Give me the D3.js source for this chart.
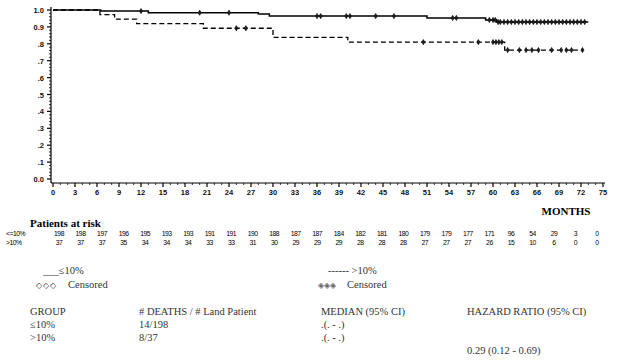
<!DOCTYPE html>
<html><head><meta charset="utf-8">
<script src="https://cdn.jsdelivr.net/npm/d3@7"></script>
<style>body{margin:0;background:#fff}svg{display:block}</style>
</head><body><svg id="c" width="617" height="360"></svg>
<script>
// ---- data ----
const lowTimes = [0, 6.5, 13, 28, 29.5, 51, 59, 60.5, 73];
const lowSurv  = [1.0, 0.994, 0.984, 0.976, 0.964, 0.953, 0.941, 0.929, 0.929];
const lowCensor = [12, 20, 24, 36, 36.5, 40, 40.5, 44, 46.5, 54.5, 55, 59.5, 60, 60.3, 60.7, 61, 61.5, 62, 62.5, 63, 63.5, 64, 64.5, 65, 65.5, 66, 66.5, 67, 67.5, 68, 68.5, 69, 69.5, 70, 70.5, 71, 71.5, 72, 72.5];
const highTimes = [0, 6.4, 8.4, 11.4, 20.5, 30, 40.2, 61.6, 72.3];
const highSurv  = [1.0, 0.973, 0.946, 0.919, 0.892, 0.838, 0.81, 0.763, 0.763];
const highCensor = [25, 26.3, 50.5, 58, 60, 60.4, 60.8, 61.2, 62, 63.6, 64.5, 65.3, 66.2, 68, 69.3, 70, 70.7, 72.2];
const xTicks = d3.range(0, 76, 3);
const yTickVals = [0, .1, .2, .3, .4, .5, .6, .7, .8, .9, 1.0];
const yTickLabels = ["0.0", ".1", ".2", ".3", ".4", ".5", ".6", ".7", ".8", "0.9", "1.0"];
const riskLabels = ["<=10%", ">10%"];
const riskLow  = [198,198,197,196,195,193,193,191,191,190,188,187,187,184,182,181,180,179,179,177,171,96,54,29,3,0];
const riskHigh = [37,37,37,35,34,34,34,33,33,31,30,29,29,29,28,28,28,27,27,27,26,15,10,6,0,0];
const tableHeaders = ["GROUP", "# DEATHS / # Land Patient", "MEDIAN (95% CI)", "HAZARD RATIO (95% CI)"];
const tableRows = [["\u226410%", "14/198", ".(. - .)", ""], [">10%", "8/37", ".(. - .)", ""]];
const hazardText = "0.29 (0.12 - 0.69)";

// ---- drawing ----
const svg = d3.select("#c");
const x = d3.scaleLinear().domain([0, 75]).range([53, 603]);
const y = d3.scaleLinear().domain([0, 1]).range([179, 10]);
const axisY0 = 183;

const ax = svg.append("g").attr("stroke", "#000").attr("stroke-width", 1.2);
ax.append("line").attr("x1", 51).attr("x2", 51).attr("y1", 7).attr("y2", axisY0);
ax.append("line").attr("x1", 51).attr("x2", 605).attr("y1", axisY0).attr("y2", axisY0);
d3.range(0, 1.0001, 0.02).forEach(v => {
  const major = Math.abs(v * 10 - Math.round(v * 10)) < 1e-6;
  ax.append("line").attr("x1", 51).attr("x2", 51 - (major ? 4 : 2))
    .attr("y1", y(v)).attr("y2", y(v)).attr("stroke-width", major ? 1.2 : 0.8);
});
d3.range(0, 76, 1).forEach(m => {
  const major = m % 3 === 0;
  ax.append("line").attr("x1", x(m)).attr("x2", x(m))
    .attr("y1", axisY0).attr("y2", axisY0 + (major ? 4 : 2)).attr("stroke-width", major ? 1.2 : 0.8);
});
svg.append("g").selectAll("text").data(yTickVals).join("text")
  .attr("x", 44).attr("y", d => y(d) + 3).attr("text-anchor", "end")
  .attr("font-family", "Liberation Sans, Arial, sans-serif").attr("font-weight", "bold")
  .attr("font-size", 7.5).attr("fill", "#111")
  .text((d, i) => yTickLabels[i]);
svg.append("g").selectAll("text").data(xTicks).join("text")
  .attr("x", d => x(d)).attr("y", 195).attr("text-anchor", "middle")
  .attr("font-family", "Liberation Sans, Arial, sans-serif").attr("font-weight", "bold")
  .attr("font-size", 7.5).attr("fill", "#111")
  .text(d => d);

function stepPts(t, s) { return t.map((d, i) => [x(d), y(s[i])]); }
const line = d3.line().curve(d3.curveStepAfter);
svg.append("path").attr("d", line(stepPts(lowTimes, lowSurv)))
  .attr("fill", "none").attr("stroke", "#000").attr("stroke-width", 1.5);
svg.append("path").attr("d", line(stepPts(highTimes, highSurv)))
  .attr("fill", "none").attr("stroke", "#000").attr("stroke-width", 1.3).attr("stroke-dasharray", "5,3");

function survAt(t, times, surv) {
  let v = surv[0];
  for (let i = 0; i < times.length; i++) if (times[i] <= t) v = surv[i];
  return v;
}
const sym = d3.symbol().type(d3.symbolDiamond).size(8);
svg.append("g").selectAll("path").data(lowCensor).join("path")
  .attr("transform", d => `translate(${x(d)},${y(survAt(d, lowTimes, lowSurv))})`)
  .attr("d", sym).attr("fill", "#222").attr("stroke", "#000").attr("stroke-width", 0.6);
svg.append("g").selectAll("path").data(highCensor).join("path")
  .attr("transform", d => `translate(${x(d)},${y(survAt(d, highTimes, highSurv))})`)
  .attr("d", sym).attr("fill", "#222").attr("stroke", "#000").attr("stroke-width", 0.6);

svg.append("text").attr("x", 566).attr("y", 215).attr("text-anchor", "middle")
  .attr("font-family", "Liberation Serif, Times New Roman, serif").attr("font-weight", "bold")
  .attr("font-size", 11).text("MONTHS");

svg.append("text").attr("x", 30).attr("y", 227)
  .attr("font-family", "Liberation Serif, Times New Roman, serif").attr("font-weight", "bold")
  .attr("font-size", 11).text("Patients at risk");
const rx = d3.scaleLinear().domain([0, 75]).range([59, 597]);
[riskLow, riskHigh].forEach((row, ri) => {
  const yy = 236 + ri * 9;
  svg.append("text").attr("x", 6).attr("y", yy)
    .attr("font-family", "Liberation Sans, Arial, sans-serif").attr("font-size", 6.8)
    .attr("letter-spacing", -0.5).text(riskLabels[ri]);
  svg.append("g").selectAll("text").data(row).join("text")
    .attr("x", (d, i) => rx(xTicks[i])).attr("y", yy).attr("text-anchor", "middle")
    .attr("font-family", "Liberation Sans, Arial, sans-serif").attr("font-size", 6.8)
    .attr("letter-spacing", -0.5).text(d => d);
});

const serif = "Liberation Serif, Times New Roman, serif";
const lg = svg.append("g").attr("font-family", serif).attr("font-size", 10.5).attr("fill", "#333");
lg.append("text").attr("x", 43).attr("y", 274).text("___\u226410%");
lg.append("text").attr("x", 36).attr("y", 288).attr("font-size", 7.5).attr("letter-spacing", 0.8).text("\u25C7\u25C7\u25C7");
lg.append("text").attr("x", 68).attr("y", 288).text("Censored");
lg.append("text").attr("x", 328).attr("y", 274).text("------ >10%");
lg.append("text").attr("x", 318).attr("y", 288).attr("font-size", 7.5).attr("fill", "#666").text("\u25C8\u25C8\u25C8");
lg.append("text").attr("x", 347).attr("y", 288).text("Censored");

const colX = [30, 139, 321, 467];
const tg = svg.append("g").attr("font-family", serif).attr("font-size", 10.5).attr("fill", "#333");
tableHeaders.forEach((h, i) => tg.append("text").attr("x", colX[i]).attr("y", 315).text(h));
tableRows.forEach((r, ri) => r.forEach((c, ci) => {
  if (c) tg.append("text").attr("x", colX[ci]).attr("y", 328 + ri * 13).text(c);
}));
tg.append("text").attr("x", colX[3]).attr("y", 354).text(hazardText);
</script></body></html>
